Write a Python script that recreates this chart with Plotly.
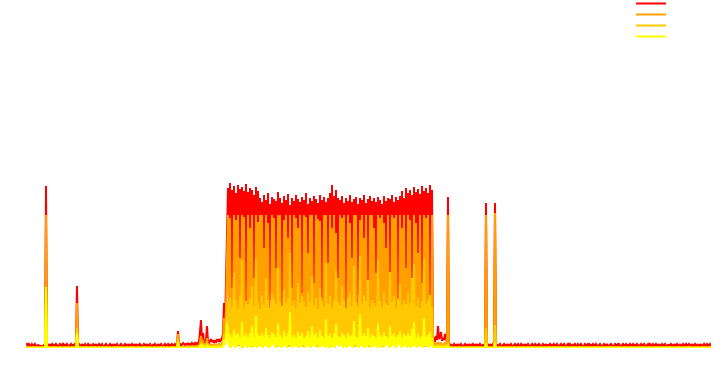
import plotly.graph_objects as go

# ---- data (sample index on x; values in arbitrary throughput units) ----
# segment A: quiet start (samples 0-201)
red_a = [3,4,2,4,3,1,4,3,2,4, 3,1,3,2,2,2,2,2,3,1, 162,3,1,4,2,3,4,1,3,2, 4,3,1,2,4,3,2,5,1,3,
         2,4,3,1,3,4,2,3,1,4, 3,62,2,4,3,1,4,2,3,4, 1,3,4,2,3,1,2,4,3,2, 4,1,3,4,2,3,4,1,2,3,
         4,2,1,3,4,2,3,1,4,2, 3,4,1,2,3,4,2,1,3,4, 2,3,1,4,2,3,4,1,3,2, 4,1,3,2,4,3,1,2,4,3,
         2,4,1,3,4,2,1,3,2,4, 3,1,4,2,3,4,1,2,3,4, 2,3,4,1,3,2,4,3,1,4, 3,4,17,3,4,2,3,5,4,3,
         4,3,5,2,4,3,5,4,3,5, 4,5,3,6,18,28,7,15,6,5, 8,22,6,5,7,9,6,8,5,7, 6,8,7,9,6,8,10,14,45,20,
         60,101]
orange_a = [1,1,0,1,1,0,1,1,1,0, 1,1,1,1,1,1,1,1,1,1, 133,1,0,1,1,1,0,1,1,1, 1,0,1,1,1,1,0,1,1,1,
            0,1,1,1,0,1,1,1,1,0, 1,45,1,1,0,1,1,1,0,1, 1,1,0,1,1,1,1,0,1,1, 1,0,1,1,1,0,1,1,1,1,
            0,1,1,1,1,0,1,1,0,1, 1,1,0,1,1,1,0,1,1,1, 1,0,1,1,1,0,1,1,1,0, 1,1,1,0,1,1,1,0,1,1,
            1,0,1,1,1,1,0,1,1,1, 0,1,1,1,0,1,1,1,1,0, 1,1,0,1,1,1,0,1,1,1, 1,1,14,1,1,0,1,1,1,1,
            1,2,1,1,2,1,1,2,1,1, 2,1,2,2,6,12,3,8,2,2, 3,10,2,3,2,4,2,3,2,3, 2,3,3,4,2,3,4,6,30,10,
            40,80]
gold_a = [0,1,0,0,1,0,0,1,0,0, 0,0,1,0,0,0,1,0,0,0, 55,0,0,1,0,0,0,1,0,0, 1,0,0,0,1,0,0,0,1,0,
          0,0,1,0,0,0,1,0,0,0, 0,20,0,0,1,0,0,0,1,0, 0,1,0,0,0,1,0,0,0,1, 0,0,0,1,0,0,0,1,0,0,
          1,0,0,0,1,0,0,0,0,1, 0,0,1,0,0,0,1,0,0,0, 0,1,0,0,0,1,0,0,1,0, 0,0,1,0,0,0,0,1,0,0,
          1,0,0,0,1,0,0,0,1,0, 0,0,1,0,0,0,1,0,0,0, 0,1,0,0,0,1,0,0,1,0, 0,0,10,0,0,1,0,0,0,1,
          0,1,0,1,0,1,0,1,1,0, 1,1,0,1,3,5,1,4,1,1, 2,6,1,2,1,2,1,2,1,2, 1,2,2,3,1,2,3,4,14,6,
          20,45]
yellow_a = [0,0,0,0,0,0,0,0,0,0, 0,0,0,0,0,0,0,0,0,0, 61,0,0,0,0,0,0,0,0,0, 0,0,0,0,0,0,0,0,0,0,
            0,0,0,0,0,0,0,0,0,0, 0,15,0,0,0,0,0,0,0,0, 0,0,0,0,0,0,0,0,0,0, 0,0,0,0,0,0,0,0,0,0,
            0,0,0,0,0,0,0,0,0,0, 0,0,0,0,0,0,0,0,0,0, 0,0,0,0,0,0,0,0,0,0, 0,0,0,0,0,0,0,0,0,0,
            0,0,0,0,0,0,0,0,0,0, 0,0,0,0,0,0,0,0,0,0, 0,0,0,0,0,0,0,0,0,0, 0,0,6,0,0,0,0,0,0,0,
            0,0,0,0,0,0,0,0,0,0, 0,0,0,0,2,3,1,2,0,0, 1,3,0,1,0,1,0,1,0,1, 0,1,1,1,0,1,1,2,8,3,
            10,25]

# segment B: busy period (samples 202-407), stored as alternating peaks / troughs
red_b_peaks = [160,165,158,162,155,163,159,161,157,164,156,160,158,153,161,157,
               150,146,153,148,155,144,151,149,147,156,150,145,152,148,154,143,150,147,
               153,149,146,151,148,155,144,150,147,152,149,145,153,148,151,146,150,
               155,163,152,158,150,
               148,152,145,150,147,153,146,149,151,144,150,148,153,145,149,152,147,150,
               146,151,148,144,152,147,150,149,153,146,151,148,
               152,157,150,160,155,158,153,161,156,159,154,162,157,160,155,163,158]
red_b_troughs = [30,12,45,20,8,60,25,15,40,10, 22,35,5,50,18,28,9,42,14,33,
                 6,48,20,11,38,16,26,7,55,19, 31,13,44,24,9,36,17,52,21,8,
                 40,15,29,6,47,23,12,34,18,58, 10,27,41,14,32,5,49,20,37,11,
                 25,43,16,30,8,53,22,13,39,18, 28,6,46,21,15,35,10,50,24,12,
                 33,19,7,44,26,14,38,9,31,17, 20,36,8,45,15,27,11,40,18,6,
                 42,23,11]
orange_b_peaks = [133,130,60,133,128,133,90,133,131,45, 133,120,133,70,133,126,133,133,100,133,
                  125,40,133,130,80,133,133,35,128,133, 110,133,60,133,130,120,133,55,133,131,
                  95,133,133,65,133,129,127,50,133,133, 85,133,120,133,115,70,133,130,133,30,
                  133,125,90,133,133,45,128,133,110,133, 40,133,133,120,75,133,130,133,125,100,
                  133,55,133,130,133,35,133,120,133,80, 133,128,60,133,125,95,133,65,133,130,
                  133,50,133]
orange_b_troughs = [8,3,12,5,15,2,9,6,18,4, 11,7,3,14,6,10,2,16,8,5, 13,4,9,2,17,7,11,3,6,15,
                    5,10,2,12,8,4,14,6,3,9, 16,5,11,7,2,13,4,10,8,3, 6,15,9,2,12,5,7,11,4,14,
                    3,8,10,6,17,2,9,12,5,7, 4,13,3,16,8,6,11,2,10,5, 9,4,14,7,3,12,6,8,15,2,
                    6,12,3,9,14,5,10,2,8,13, 11,5,7]
gold_b_peaks = [45,50,42,75,48,40,52,88,38,47, 44,50,62,41,90,46,39,53,43,70, 48,40,55,50,44,80,46,42,58,45,
                50,95,43,48,40,65,45,52,47,41, 55,46,72,42,50,39,60,47,41,85, 44,52,40,48,78,46,43,62,47,40,
                50,55,42,82,46,41,92,44,53,47, 68,40,48,45,42,88,47,41,56,45, 43,76,46,52,40,49,64,42,48,44,
                55,45,70,84,42,50,40,47,90,44, 48,53,41]
gold_b_troughs = [4,1,6,2,8,3,5,0,7,2, 3,6,1,9,4,2,5,1,7,3, 6,2,4,8,1,5,3,7,2,4,
                  1,6,3,5,8,2,4,1,7,3, 5,2,9,4,1,6,3,8,2,5, 4,1,7,3,6,2,5,1,8,3,
                  2,6,4,1,7,3,5,2,9,4, 1,5,3,8,2,6,4,1,7,3, 5,2,6,4,1,8,3,5,2,7,
                  4,1,6,3,5,2,8,4,1,6, 3,5,2]
yellow_b_peaks = [12,14,10,18,13,15,11,26,12,14, 11,15,22,10,32,13,12,15,11,20, 13,10,16,14,11,25,13,10,17,12,
                  15,36,11,13,10,16,12,15,10,12, 17,11,22,13,15,10,18,12,10,29, 12,14,10,15,24,12,11,15,13,10,
                  15,12,13,27,11,10,34,12,15,12, 20,10,14,12,10,24,13,11,16,12, 10,22,12,15,11,13,17,10,14,12,
                  15,12,19,26,10,14,10,12,30,11, 13,16,10]
yellow_b_troughs = [1,0,2,0,1,3,0,1,2,0, 1,0,2,1,0,3,1,0,2,1, 0,1,3,0,2,1,0,1,2,0,
                    3,1,0,2,1,0,1,3,0,2, 1,0,2,1,3,0,1,2,0,1, 0,2,1,0,3,1,2,0,1,0,
                    2,1,0,3,1,0,2,1,0,1, 3,0,1,2,0,1,0,2,1,3, 0,1,2,0,1,3,0,1,2,0,
                    1,0,2,1,0,3,1,0,2,1, 0,2,1]

# segment C: after-burst bump and spike (samples 408-422)
red_c = [10,6,12,8,22,9,11,16,7,10,8,14,9,6,151]
orange_c = [4,3,5,3,6,4,3,5,4,3,4,5,3,2,133]
gold_c = [2,2,3,2,3,2,2,3,2,2,2,3,2,1,5]
yellow_c = [1,1,1,1,1,1,1,1,1,1,1,1,1,1,2]

# segment D: quiet tail (samples 423-685)
red_d = [3,2,4,1,3,4,2,3,1,4, 2,3,4,2,1,3,4,2,3,1, 4,2,3,1,4,3,2,4,1,3, 2,4,3,1,3,2,4,145,3,2,
         4,1,3,2,4,3,145,2,4,1, 3,4,2,1,3,4,2,3,1,4, 2,3,4,1,2,3,4,2,3,4, 1,3,4,2,3,1,4,2,3,4,
         2,1,3,4,2,3,4,1,3,2, 4,3,1,2,4,3,2,4,1,3, 3,4,2,3,1,4,3,2,4,3, 1,3,4,2,3,4,1,2,3,4,
         2,4,3,1,3,2,4,3,1,4, 3,2,4,3,1,2,4,3,2,4, 4,1,3,2,4,3,2,4,3,1, 3,4,2,1,3,4,3,2,4,2,
         2,3,4,3,1,2,4,3,2,4, 4,2,1,3,4,2,3,4,1,3, 3,4,2,3,4,1,3,2,4,3, 1,3,4,2,3,4,2,1,3,4,
         2,4,3,1,4,3,2,4,3,2, 4,1,3,4,2,3,4,2,1,3, 3,2,4,3,1,4,2,3,4,2, 2,4,1,3,4,2,3,4,2,3,
         4,3,2,4,1,3,4,2,3,1, 3,2,4,1,3,4,2,3,4,2, 3,4,2]
orange_d = [1,1,0,1,1,1,0,1,1,1, 0,1,1,1,1,0,1,1,1,0, 1,1,1,0,1,1,1,1,0,1, 1,0,1,1,1,1,0,133,1,1,
            0,1,1,1,1,0,135,1,1,1, 1,1,0,1,1,1,1,0,1,1, 1,0,1,1,1,0,1,1,1,1, 0,1,1,1,0,1,1,1,1,0,
            1,1,1,0,1,1,1,0,1,1, 1,0,1,1,1,1,0,1,1,1, 0,1,1,1,0,1,1,1,1,0, 1,1,0,1,1,1,1,0,1,1,
            1,1,1,0,1,1,0,1,1,1, 0,1,1,1,1,0,1,1,1,1, 1,0,1,1,1,1,0,1,1,0, 1,1,1,0,1,1,1,1,0,1,
            1,0,1,1,1,0,1,1,1,1, 0,1,1,1,1,1,0,1,1,1, 1,1,0,1,1,1,1,0,1,1, 1,0,1,1,1,0,1,1,1,1,
            0,1,1,1,1,1,0,1,1,0, 1,1,1,0,1,1,1,1,0,1, 1,0,1,1,1,1,0,1,1,1, 0,1,1,1,0,1,1,1,1,0,
            1,1,0,1,1,1,1,0,1,1, 1,1,1,0,1,1,0,1,1,1, 1,0,1]
gold_d = [0,0,1,0,0,0,1,0,0,0, 1,0,0,0,0,1,0,0,0,1, 0,0,0,1,0,0,0,0,1,0, 0,1,0,0,0,0,1,20,0,0,
          1,0,0,0,0,1,23,0,0,0, 0,0,1,0,0,0,0,1,0,0, 0,1,0,0,0,1,0,0,0,0, 1,0,0,0,1,0,0,0,0,1,
          0,0,0,1,0,0,0,1,0,0, 0,1,0,0,0,0,1,0,0,0, 1,0,0,0,1,0,0,0,0,1, 0,0,1,0,0,0,0,1,0,0,
          0,0,0,1,0,0,1,0,0,0, 1,0,0,0,0,1,0,0,0,0, 0,1,0,0,0,0,1,0,0,1, 0,0,0,1,0,0,0,0,1,0,
          0,1,0,0,0,1,0,0,0,0, 1,0,0,0,0,0,1,0,0,0, 0,0,1,0,0,0,0,1,0,0, 0,1,0,0,0,1,0,0,0,0,
          1,0,0,0,0,0,1,0,0,1, 0,0,0,1,0,0,0,0,1,0, 0,1,0,0,0,0,1,0,0,0, 1,0,0,0,1,0,0,0,0,1,
          0,0,1,0,0,0,0,1,0,0, 0,0,0,1,0,0,1,0,0,0, 0,1,0]
yellow_d = [0,0,0,0,0,0,0,0,0,0, 0,0,0,0,0,0,0,0,0,0, 0,0,0,0,0,0,0,0,0,0, 0,0,0,0,0,0,0,5,0,0,
            0,0,0,0,0,0,5,0,0,0, 0,0,0,0,0,0,0,0,0,0, 0,0,0,0,0,0,0,0,0,0, 0,0,0,0,0,0,0,0,0,0,
            0,0,0,0,0,0,0,0,0,0, 0,0,0,0,0,0,0,0,0,0, 0,0,0,0,0,0,0,0,0,0, 0,0,0,0,0,0,0,0,0,0,
            0,0,0,0,0,0,0,0,0,0, 0,0,0,0,0,0,0,0,0,0, 0,0,0,0,0,0,0,0,0,0, 0,0,0,0,0,0,0,0,0,0,
            0,0,0,0,0,0,0,0,0,0, 0,0,0,0,0,0,0,0,0,0, 0,0,0,0,0,0,0,0,0,0, 0,0,0,0,0,0,0,0,0,0,
            0,0,0,0,0,0,0,0,0,0, 0,0,0,0,0,0,0,0,0,0, 0,0,0,0,0,0,0,0,0,0, 0,0,0,0,0,0,0,0,0,0,
            0,0,0,0,0,0,0,0,0,0, 0,0,0,0,0,0,0,0,0,0, 0,0,0]

series_names = [" ", " ", " ", " "]
series_colors = ["#ff0000", "#ffa000", "#ffc800", "#ffff00"]


def interleave(peaks, troughs):
    assert len(peaks) == len(troughs), (len(peaks), len(troughs))
    out = []
    for p, t in zip(peaks, troughs):
        out += [p, t]
    return out


red = red_a + interleave(red_b_peaks, red_b_troughs) + red_c + red_d
orange = orange_a + interleave(orange_b_peaks, orange_b_troughs) + orange_c + orange_d
gold = gold_a + interleave(gold_b_peaks, gold_b_troughs) + gold_c + gold_d
yellow = yellow_a + interleave(yellow_b_peaks, yellow_b_troughs) + yellow_c + yellow_d
all_series = [red, orange, gold, yellow]
lens = [len(s) for s in all_series]
assert len(set(lens)) == 1, f"length mismatch {lens}"
n = lens[0]
x = list(range(n))

W, H = 727, 370
ML, MR, MT, MB = 26, 16, 8, 22
plot_h = H - MT - MB

fig = go.Figure()
legend_ids = ["legend", "legend2", "legend3", "legend4"]
for s, name, col, lg in zip(all_series, series_names, series_colors, legend_ids):
    fig.add_trace(go.Scatter(x=x, y=s, mode="lines", name=name,
                             line=dict(color=col, width=2), legend=lg,
                             hoverinfo="skip"))

layout_legends = {}
legend_px_y = [3, 14, 25, 36]
for lg, py in zip(legend_ids, legend_px_y):
    top_px = py - 14
    layout_legends[lg] = dict(
        x=(631 - ML) / (W - ML - MR), xanchor="left",
        y=(H - MB - top_px) / plot_h, yanchor="top",
        bgcolor="rgba(0,0,0,0)", borderwidth=0,
        font=dict(size=8, color="#ffffff"),
    )

fig.update_layout(
    width=W, height=H,
    margin=dict(l=ML, r=MR, t=MT, b=MB, autoexpand=False),
    paper_bgcolor="white", plot_bgcolor="white",
    xaxis=dict(range=[0, n - 1], visible=False, fixedrange=True),
    yaxis=dict(range=[0, plot_h], visible=False, fixedrange=True),
    showlegend=True,
    hovermode=False,
    **layout_legends,
)

fig.write_html("out.html", config={"displayModeBar": False},
               post_script="document.body.style.margin='0';document.body.style.overflow='hidden';")
